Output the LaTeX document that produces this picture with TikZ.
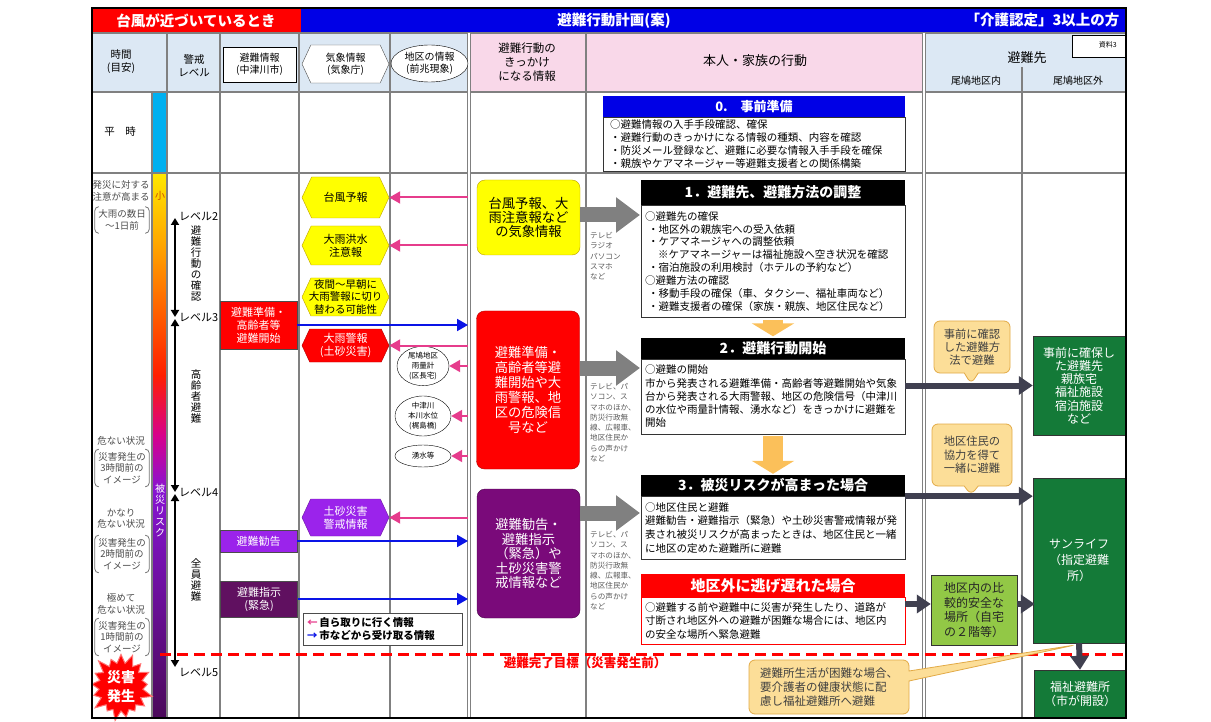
\documentclass[tikz,border=0pt]{standalone}
\usepackage{fontspec}
\setmainfont{Noto Sans CJK JP}
\usepackage{tikz}
\usetikzlibrary{arrows.meta,positioning,shapes.geometric,shapes.symbols,shapes.callouts}

\definecolor{hblue}{RGB}{220,232,244}
\definecolor{hpink}{RGB}{249,216,233}
\definecolor{tblue}{RGB}{0,0,230}
\definecolor{lgray}{RGB}{128,128,128}
\definecolor{calm}{RGB}{0,176,240}
\definecolor{rk1}{RGB}{255,232,0}
\definecolor{rk2}{RGB}{255,160,0}
\definecolor{rk3}{RGB}{255,30,0}
\definecolor{rk4}{RGB}{215,0,140}
\definecolor{rk5}{RGB}{135,20,210}
\definecolor{rk6}{RGB}{75,10,90}
\definecolor{pinkar}{RGB}{230,60,140}
\definecolor{bluear}{RGB}{10,20,230}
\definecolor{vio}{RGB}{155,35,235}
\definecolor{dvio}{RGB}{96,16,96}
\definecolor{kvio}{RGB}{122,10,122}
\definecolor{ylw}{RGB}{255,255,0}
\definecolor{gold}{RGB}{190,160,0}
\definecolor{dgreen}{RGB}{20,122,56}
\definecolor{lgreen}{RGB}{146,200,70}
\definecolor{tanfill}{RGB}{252,222,152}
\definecolor{tanline}{RGB}{226,170,70}
\definecolor{darkar}{RGB}{64,64,80}
\definecolor{orgar}{RGB}{251,192,90}
\definecolor{mgray}{RGB}{90,90,90}

\newcommand{\fsz}[2]{\fontsize{#1}{#2}\selectfont}

\begin{document}
\begin{tikzpicture}[x=1pt, y=-1pt, font=\fsz{10}{12}, >={Triangle[length=11pt,width=12pt]},
    colline/.style={draw=lgray, line width=1.2pt},
    dcolline/.style={draw=lgray, line width=0.8pt, double=white, double distance=2pt},
    title/.style={text=white, font=\bfseries\fsz{14.5}{16}},
    tcol/.style={align=center, text=black!70, inner sep=0pt, font=\fsz{9.5}{11.5}},
    tbr/.style={tcol, minimum width=54pt, inner ysep=3pt},
    brk/.style={draw=black!55, line width=0.8pt, rounded corners=4pt},
    lvl/.style={{Triangle[length=7pt,width=8pt]}-{Triangle[length=7pt,width=8pt]}, line width=2pt, shorten <=1pt, shorten >=1pt},
    lvtxt/.style={inner sep=0pt, font=\fsz{11}{12}},
    vtxt/.style={align=center, inner sep=0pt, font=\fsz{10.5}{11}},
    hex/.style={signal, signal to=west and east, signal pointer angle=130, draw=gold, fill=ylw, inner sep=1pt, minimum width=87pt, align=center, font=\fsz{11}{13}},
    ell/.style={ellipse, draw, fill=white, inner sep=0pt, align=center, font=\fsz{7.5}{10}},
    info/.style={rectangle, draw=black!70, minimum width=77pt, text=white, align=center, inner sep=0pt, font=\fsz{11}{13}},
    kk/.style={rectangle, rounded corners=8pt, minimum width=103pt, align=center, inner sep=0pt, font=\fsz{13.3}{15}},
    media/.style={anchor=north west, align=left, text=mgray, inner sep=0pt, font=\fsz{7.6}{10.3}},
    head/.style={rectangle, fill=black, text=white, minimum width=264pt, inner sep=0pt, font=\bfseries\fsz{14}{16}},
    body/.style={rectangle, draw=black!80, fill=white, inner xsep=4pt, inner ysep=0pt, text width=256pt, align=left, font=\fsz{10.5}{12.9}},
    grn/.style={rectangle, fill=dgreen, draw=black!80, text=white, align=center, inner sep=0pt, font=\fsz{12}{13.3}},
    cal/.style={rectangle callout, rounded corners=6pt, fill=tanfill, draw=tanline, line width=0.8pt, align=center, inner sep=0pt, callout pointer width=14pt, text=black!75, font=\fsz{11.3}{13.3}},
    pka/.style={->, draw=pinkar, line width=2pt},
    bla/.style={->, draw=bluear, line width=2pt},
    garr/.style={draw=lgray, line width=15pt, -{Triangle[length=24pt,width=34pt]}},
    darr/.style={draw=darkar, line width=6pt, -{Triangle[length=14pt,width=18pt]}},
    oarr/.style={draw=orgar, line width=20pt, -{Triangle[length=13pt,width=42pt]}, shorten <=2pt, shorten >=1pt}]

    \useasboundingbox (0,0) rectangle (1211,722);

    % Title bar and header background
    \fill[red] (92,8) rectangle (301,33);
    \fill[tblue] (301,8) rectangle (1126,33);
    \fill[hblue] (92,33) rectangle (469,92);
    \fill[hpink] (469,33) rectangle (924,92);
    \fill[hblue] (924,33) rectangle (1126,92);

    % Risk bar
    \fill[calm] (152,92) rectangle (167,173);
    \shade[top color=rk1, bottom color=rk2] (152,173) rectangle (167,250.5);
    \shade[top color=rk2, bottom color=rk3] (152,250) rectangle (167,375.5);
    \shade[top color=rk3, bottom color=rk4] (152,375) rectangle (167,435.5);
    \shade[top color=rk4, bottom color=rk5] (152,435) rectangle (167,490.5);
    \shade[top color=rk5, bottom color=rk6] (152,490) rectangle (167,718);

    % Table lines
    \foreach \y in {33,92,173} \draw[colline] (92,\y) -- (1126,\y);
    \draw[colline] (152,92) -- (152,718);
    \foreach \x in {167,220,299,390,586} \draw[colline] (\x,33) -- (\x,718);
    \foreach \x in {469,924} \draw[dcolline] (\x,33) -- (\x,718);
    \draw[colline] (1022,67) -- (1022,718);

    % Target line
    \draw[red, line width=3pt, dash pattern=on 11pt off 6pt] (160,654) -- (1126,654);
    \node[text=red, font=\bfseries\fsz{12.5}{14}] (goal) at (585,663) {避難完了目標（災害発生前）};

    % Title texts
    \node[title] (t1) at (196,20.5) {台風が近づいているとき};
    \node[title] (t2) at (614,20.5) {避難行動計画(案)};
    \node[title, anchor=east] (t3) at (1123,20.5) {「介護認定」3以上の方};

    % Header cells
    \node[align=center, font=\fsz{10.5}{13}] (h1) at (121,62) {時間\\(目安)};
    \node[align=center, font=\fsz{10.5}{13}] (h2) at (194,66) {警戒\\レベル};
    \node[draw, fill=white, minimum width=73pt, minimum height=35pt, inner sep=0pt, align=center, font=\fsz{10}{12}] (h3) at (259.5,64.5) {避難情報\\(中津川市)};
    \node[hex, fill=white, draw=black!70, minimum height=38pt, font=\fsz{10}{12}] (h4) at (345.5,64) {気象情報\\(気象庁)};
    \node[ell, minimum width=77pt, minimum height=37pt, font=\fsz{10}{12}] (h5) at (429.5,63.5) {地区の情報\\(前兆現象)};
    \node[align=center, font=\fsz{11.5}{14}] (h6) at (527,62) {避難行動の\\きっかけ\\になる情報};
    \node[font=\fsz{13}{15}] (h7) at (755,61) {本人・家族の行動};
    \node[font=\fsz{13}{15}] (h8) at (1027,58) {避難先};
    \node[font=\fsz{10}{12}] (h9) at (976,81) {尾鳩地区内};
    \node[font=\fsz{10}{12}] (h10) at (1078,81) {尾鳩地区外};
    \node[draw, fill=white, minimum width=53pt, minimum height=22pt, anchor=north east, inner sep=0pt] (h11) at (1125,35) {};
    \node[anchor=north east, inner sep=0pt, font=\fsz{7}{8}] (h12) at ([xshift=-8pt,yshift=-6pt]h11.north east) {資料3};

    % Time column
    \node[font=\fsz{10.5}{12}] (heiji) at (120,132) {平　時};
    \node[tcol] (tm1) at (121,191) {発災に対する\\注意が高まる};
    \node[tbr] (br1) at (122,220) {大雨の数日\\〜1日前};
    \node[tcol] (tm2) at (121,441) {危ない状況};
    \node[tbr] (br2) at (122,468) {災害発生の\\3時間前の\\イメージ};
    \node[tcol] (tm3) at (121,518.5) {かなり\\危ない状況};
    \node[tbr] (br3) at (122,554) {災害発生の\\2時間前の\\イメージ};
    \node[tcol] (tm4) at (121,604) {極めて\\危ない状況};
    \node[tbr] (br4) at (122,637) {災害発生の\\1時間前の\\イメージ};
    \foreach \n in {br1,br2,br3,br4} {
        \draw[brk] ([xshift=4pt]\n.north west) -- (\n.north west) -- (\n.south west) -- ([xshift=4pt]\n.south west);
        \draw[brk] ([xshift=-4pt]\n.north east) -- (\n.north east) -- (\n.south east) -- ([xshift=-4pt]\n.south east);
    }
    \node[starburst, starburst point height=12pt, fill=red, draw=red!55, line width=1pt, minimum width=68pt, minimum height=72pt, inner sep=0pt, align=center, text=white, font=\bfseries\fsz{14}{19}] (sb) at (121,687) {災害\\発生};

    % Risk bar texts
    \node[text={rgb,255:red,200;green,80;blue,0}, font=\fsz{10}{11}] (small) at (160,196) {小};
    \node[vtxt, text=white, font=\fsz{10}{11}] (risk) at (160,511) {被\\災\\リ\\ス\\ク};

    % Alert levels
    \coordinate (lv2) at (175,217);
    \coordinate (lv3) at (175,318);
    \coordinate (lv4) at (175,493);
    \coordinate (lv5) at (175,668);
    \draw[lvl] (lv2) -- (lv3);
    \draw[lvl] (lv3) -- (lv4);
    \draw[lvl] (lv4) -- (lv5);
    \node[lvtxt, right=4pt of lv2] (l2) {レベル2};
    \node[lvtxt, right=4pt of lv3] (l3) {レベル3};
    \node[lvtxt, right=4pt of lv4] (l4) {レベル4};
    \node[lvtxt, right=4pt of lv5, yshift=-5pt] (l5) {レベル5};
    \node[vtxt] (v1) at (196,263) {避\\難\\行\\動\\の\\確\\認};
    \node[vtxt] (v2) at (196,397) {高\\齢\\者\\避\\難};
    \node[vtxt] (v3) at (196,580) {全\\員\\避\\難};

    % Evacuation information (city)
    \node[info, fill=red, minimum height=48pt] (hj1) at (258.5,325) {避難準備・\\高齢者等\\避難開始};
    \node[info, fill=vio, minimum height=22pt] (hj2) at (258.5,541) {避難勧告};
    \node[info, fill=dvio, minimum height=36pt] (hj3) at (259,599) {避難指示\\(緊急)};

    % Weather information
    \node[hex, minimum height=41pt] (hx1) at (345.5,197.5) {台風予報};
    \node[hex, minimum height=39pt] (hx2) at (345.5,245.5) {大雨洪水\\注意報};
    \node[hex, minimum height=38pt, inner xsep=-3pt, font=\fsz{10.5}{12.5}] (hx3) at (345.5,297) {夜間〜早朝に\\大雨警報に切り\\替わる可能性};
    \node[hex, fill=red, draw=red!70!black, text=white, minimum height=33pt] (hx4) at (345.5,345.5) {大雨警報\\(土砂災害)};
    \node[hex, fill=vio, draw=vio!70!black, text=white, minimum height=37pt] (hx5) at (345.5,517.5) {土砂災害\\警戒情報};

    % District information
    \node[ell, minimum width=52pt, minimum height=37pt] (el1) at (423,366) {尾鳩地区\\雨量計\\(区長宅)};
    \node[ell, minimum width=56pt, minimum height=40pt] (el2) at (423,416) {中津川\\本川水位\\(梶島橋)};
    \node[ell, minimum width=56pt, minimum height=22pt] (el3) at (423,456) {湧水等};

    % Legend
    \node[draw=black!70, fill=white, anchor=north west, text width=151pt, align=left, inner sep=4pt, font=\bfseries\fsz{10.5}{13.5}] (lg) at (303,613) {\textcolor{pinkar}{←}\,自ら取りに行く情報\\\textcolor{bluear}{→}\,市などから受け取る情報};

    % Trigger information
    \node[kk, fill=ylw, draw=gold, minimum height=75pt, font=\fsz{13.3}{14}] (kk1) at (528.5,217.5) {台風予報、大\\雨注意報など\\の気象情報};
    \node[kk, fill=red, draw=red!70!black, text=white, minimum height=158pt] (kk2) at (528,390) {避難準備・\\高齢者等避\\難開始や大\\雨警報、地\\区の危険信\\号など};
    \node[kk, fill=kvio, draw=kvio!60!black, text=white, minimum height=129pt, font=\fsz{13.3}{14.5}] (kk3) at (528.5,553.5) {避難勧告・\\避難指示\\（緊急）や\\土砂災害警\\戒情報など};

    \node[media] (m1) at (590,232) {テレビ\\ラジオ\\パソコン\\スマホ\\など};
    \node[media] (m2) at (590,383) {テレビ、パ\\ソコン、ス\\マホのほか、\\防災行政無\\線、広報車、\\地区住民か\\らの声かけ\\など};
    \node[media] (m3) at (590,531) {テレビ、パ\\ソコン、ス\\マホのほか、\\防災行政無\\線、広報車、\\地区住民か\\らの声かけ\\など};

    % Actions of the person and family
    \node[head, fill=tblue, minimum width=302pt, minimum height=21pt, font=\bfseries\fsz{13}{15}] (a0h) at (754,106.5) {0.　事前準備};
    \node[body, text width=288pt, inner xsep=7pt, minimum height=54pt, below=0pt of a0h] (a0b) {○避難情報の入手手段確認、確保\\・避難行動のきっかけになる情報の種類、内容を確認\\・防災メール登録など、避難に必要な情報入手手段を確保\\・親族やケアマネージャー等避難支援者との関係構築};

    \node[head, minimum height=25pt] (a1h) at (773,192.5) {1．避難先、避難方法の調整};
    \node[body, minimum height=112pt, below=0pt of a1h] (a1b) {○避難先の確保\\\hspace*{3pt}・地区外の親族宅への受入依頼\\\hspace*{3pt}・ケアマネージャへの調整依頼\\\hspace*{13pt}※ケアマネージャーは福祉施設へ空き状況を確認\\\hspace*{3pt}・宿泊施設の利用検討（ホテルの予約など）\\○避難方法の確認\\\hspace*{3pt}・移動手段の確保（車、タクシー、福祉車両など）\\\hspace*{3pt}・避難支援者の確保（家族・親族、地区住民など）};

    \node[head, minimum height=21pt] (a2h) at (773,348) {2．避難行動開始};
    \node[body, minimum height=75pt, below=0pt of a2h, font=\fsz{10.5}{13.3}] (a2b) {○避難の開始\\市から発表される避難準備・高齢者等避難開始や気象\\台から発表される大雨警報、地区の危険信号（中津川\\の水位や雨量計情報、湧水など）をきっかけに避難を\\開始};

    \node[head, minimum height=21pt] (a3h) at (773,485.5) {3．被災リスクが高まった場合};
    \node[body, minimum height=63pt, below=0pt of a3h, font=\fsz{10.5}{13.8}] (a3b) {○地区住民と避難\\避難勧告・避難指示（緊急）や土砂災害警戒情報が発\\表され被災リスクが高まったときは、地区住民と一緒\\に地区の定めた避難所に避難};

    \node[head, fill=red, minimum height=23pt, font=\bfseries\fsz{15}{17}] (a4h) at (773,585.5) {地区外に逃げ遅れた場合};
    \node[body, draw=red, minimum height=47pt, below=0pt of a4h, font=\fsz{10.5}{13.5}] (a4b) {○避難する前や避難中に災害が発生したり、道路が\\寸断され地区外への避難が困難な場合には、地区内\\の安全な場所へ緊急避難};

    % Evacuation places
    \node[grn, minimum width=92pt, minimum height=99pt] (gr1) at (1079,385.5) {事前に確保し\\た避難先\\親族宅\\福祉施設\\宿泊施設\\など};
    \node[grn, minimum width=92pt, minimum height=165pt, font=\fsz{12}{16}] (sl) at (1079,560.5) {サンライフ\\（指定避難\\所）};
    \node[grn, minimum width=91pt, minimum height=48pt, font=\fsz{12}{14}] (fk) at (1080,694) {福祉避難所\\（市が開設）};
    \node[grn, fill=lgreen, text=black!85, minimum width=86pt, minimum height=70pt, font=\fsz{12}{14.5}] (ck) at (974,610) {地区内の比\\較的安全な\\場所（自宅\\の２階等）};

    % Paths
    \coordinate (xk) at (468,0);
    \foreach \n in {hx1,hx2,hx4,hx5,el1,el2,el3} \draw[pka] (\n.east -| xk) -- (\n.east);
    \foreach \n in {hj1,hj2,hj3} \draw[bla] (\n.east) -- (\n.east -| xk);

    \coordinate (g1) at (640,215);
    \coordinate (g2) at (640,368);
    \coordinate (g3) at (640,513);
    \draw[garr] (kk1.east |- g1) -- (g1);
    \draw[garr] (kk2.east |- g2) -- (g2);
    \draw[garr] (kk3.east |- g3) -- (g3);

    \draw[oarr] (a1b.south) -- (a2h.north);
    \draw[oarr] (a2b.south) -- (a3h.north);

    \coordinate (ya) at (0,604);
    \draw[darr] (a2b.east |- gr1.west) -- (gr1.west);
    \draw[darr] (a3h.south east) -- (a3h.south east -| sl.west);
    \draw[darr] (a4b.east |- ya) -- (ck.west |- ya);
    \draw[darr, shorten >=-2pt] (ck.east |- ya) -- (sl.west |- ya);
    \draw[darr] (sl.south) -- (fk.north);

    % Callouts
    \node[cal, minimum width=76pt, minimum height=52pt, callout absolute pointer={(971,384)}] (c1) at (972,347) {事前に確認\\した避難方\\法で避難};
    \node[cal, minimum width=80pt, minimum height=62pt, callout absolute pointer={(971,495)}] (c2) at (972,455) {地区住民の\\協力を得て\\一緒に避難};
    \node[cal, minimum width=160pt, minimum height=54pt, callout pointer width=10pt, align=left, font=\fsz{11.5}{14}, callout absolute pointer={(1075,645)}] (c3) at (829,687) {避難所生活が困難な場合、\\要介護者の健康状態に配\\慮し福祉避難所へ避難};

    % Frame
    \draw[line width=2pt] (92,8) rectangle (1126,718);
\end{tikzpicture}
\end{document}
